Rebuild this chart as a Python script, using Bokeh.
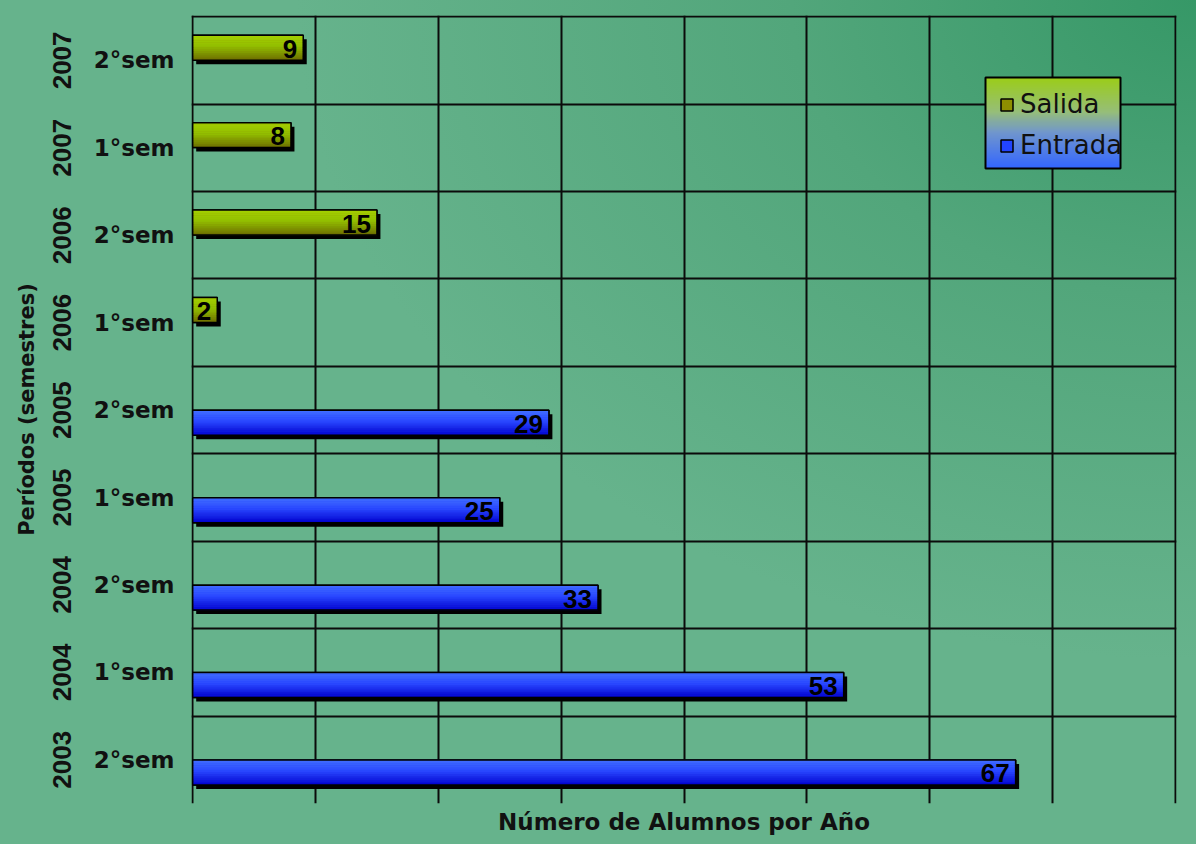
import numpy as np
from bokeh.plotting import figure
from bokeh.models import (FixedTicker, LinearAxis, Range1d, Legend, LegendItem,
                          ColumnDataSource)
from bokeh.core.properties import value
from bokeh.embed import file_html
from bokeh.resources import INLINE

# ---------------- data ----------------
years = ["2003", "2004", "2004", "2005", "2005", "2006", "2006", "2007", "2007"]
semesters = ["2°sem", "1°sem", "2°sem", "1°sem", "2°sem", "1°sem", "2°sem", "1°sem", "2°sem"]
entrada = [67, 53, 33, 25, 29, None, None, None, None]
salida = [None, None, None, None, None, 2, 15, 8, 9]
x_grid_ticks = [0, 10, 20, 30, 40, 50, 60, 70, 80]
series_names = ["Salida", "Entrada"]
x_title = "Número de Alumnos por Año"
y_title = "Períodos (semestres)"

# ---------------- geometry / style ----------------
W, H = 1196, 844
ML, MR, MT, MB = 191, 20, 15, 41
X_MAX = x_grid_ticks[-1]
n = len(years)
frame_w = W - ML - MR
frame_h = H - MT - MB
ppx = frame_w / X_MAX          # pixels per x unit
ppy = frame_h / n              # pixels per category band
EX, EY = 1.2 / ppx, 1.2 / ppy  # tiny range padding so edge grid lines are not clipped
centers = np.arange(n) + 0.5
BAR_H = 0.285
OFFS = {"Salida": 0.145, "Entrada": -0.145}
SH_DX, SH_DY = 3.5 / ppx, 4.0 / ppy

NUMF = "Liberation Sans"

p = figure(width=W, height=H, x_range=Range1d(-EX, X_MAX + EX),
           y_range=Range1d(0, n + EY),
           output_backend="svg", toolbar_location=None,
           min_border_left=ML, min_border_right=MR, min_border_top=MT,
           min_border_bottom=MB)
p.border_fill_alpha = 0
p.background_fill_alpha = 0
p.outline_line_color = None
p.styles = {"background": "radial-gradient(ellipse 900px 660px at 100% 0%, "
                          "#369867 0%, #52a67b 45%, #66b38c 100%)"}

# grids at band boundaries / every 10 units
p.xgrid.ticker = FixedTicker(ticks=x_grid_ticks)
p.ygrid.ticker = FixedTicker(ticks=list(range(1, n + 1)))
for g in (p.xgrid[0], p.ygrid[0]):
    g.grid_line_color = "#0b0b0b"
    g.grid_line_width = 2
    g.grid_line_alpha = 1

# x axis: title only
xa = p.xaxis[0]
xa.ticker = FixedTicker(ticks=[])
xa.axis_line_color = None
xa.major_tick_out = 0
xa.major_tick_in = 0
xa.minor_tick_out = 0
xa.major_label_standoff = 0
xa.axis_label = x_title
xa.axis_label_text_font = "DejaVu Sans"
xa.axis_label_text_font_style = "bold"
xa.axis_label_text_font_size = "23px"
xa.axis_label_text_color = "#111111"
xa.axis_label_standoff = 5

center_ticker = FixedTicker(ticks=[float(c) for c in centers])

# inner y axis: semesters
ya = p.yaxis[0]
ya.ticker = center_ticker
ya.major_label_overrides = {float(c): s for c, s in zip(centers, semesters)}
ya.axis_line_color = None
ya.major_tick_out = 0
ya.major_tick_in = 0
ya.minor_tick_out = 0
ya.minor_tick_in = 0
ya.major_label_standoff = 17
ya.major_label_text_font = "DejaVu Sans"
ya.major_label_text_font_style = "bold"
ya.major_label_text_font_size = "23px"
ya.major_label_text_color = "#111111"

# outer y axis: years (vertical) + title
yo = LinearAxis(ticker=center_ticker,
                major_label_overrides={float(c): y for c, y in zip(centers, years)})
yo.axis_line_color = None
yo.major_tick_out = 0
yo.major_tick_in = 0
yo.minor_tick_out = 0
yo.minor_tick_in = 0
yo.major_label_orientation = "vertical"
yo.major_label_standoff = 19
yo.major_label_text_font = NUMF
yo.major_label_text_font_style = "bold"
yo.major_label_text_font_size = "26px"
yo.major_label_text_color = "#111111"
yo.axis_label = y_title
yo.axis_label_text_font = "DejaVu Sans"
yo.axis_label_text_font_style = "bold"
yo.axis_label_text_font_size = "21px"
yo.axis_label_text_color = "#111111"
yo.axis_label_standoff = 12
p.add_layout(yo, "left")

# ---------------- bars ----------------
stops = {
    "Salida": [(0.0, (165, 208, 0)), (0.45, (146, 190, 0)), (1.0, (108, 108, 0))],
    "Entrada": [(0.0, (66, 112, 255)), (0.45, (42, 72, 255)), (1.0, (0, 0, 205))],
}
base_color = {"Salida": "#8f8f00", "Entrada": "#2244ff"}


def grad(stop_list, t):
    for (t0, c0), (t1, c1) in zip(stop_list[:-1], stop_list[1:]):
        if t0 <= t <= t1:
            f = (t - t0) / (t1 - t0)
            c = [int(round(a + (b - a) * f)) for a, b in zip(c0, c1)]
            return "#%02x%02x%02x" % tuple(c)
    return "#%02x%02x%02x" % stop_list[-1][1]


legend_items = []
NSTRIP = 14
for name, vals in (("Entrada", entrada), ("Salida", salida)):
    idx = [i for i, v in enumerate(vals) if v is not None]
    v = [vals[i] for i in idx]
    yc = [centers[i] + OFFS[name] for i in idx]
    src = ColumnDataSource(dict(y=yc, right=v, lab=[str(x) for x in v],
                                ys=[y - SH_DY for y in yc],
                                rs=[x + SH_DX for x in v],
                                ls=[SH_DX] * len(v)))
    # shadow
    p.hbar(y="ys", left="ls", right="rs", height=BAR_H, source=src,
           fill_color="#000000", line_color=None)
    # base (legend glyph)
    base = p.hbar(y="y", left=0, right="right", height=BAR_H, source=src,
                  fill_color=base_color[name], line_color="#000000", line_width=1.5)
    # gradient strips
    sy, sr, sc = [], [], []
    for yy, vv in zip(yc, v):
        top = yy + BAR_H / 2
        for k in range(NSTRIP):
            t = (k + 0.5) / NSTRIP
            sy.append(top - (k + 0.5) * BAR_H / NSTRIP)
            sr.append(vv)
            sc.append(grad(stops[name], t))
    p.hbar(y=sy, left=0, right=sr, height=BAR_H / NSTRIP * 1.15, fill_color=sc,
           line_color=None)
    # outline
    p.hbar(y="y", left=0, right="right", height=BAR_H, source=src,
           fill_alpha=0, line_color="#000000", line_width=1.5)
    # value labels
    p.text(x="right", y="y", text="lab", source=src, text_align="right",
           text_baseline="middle", x_offset=-6, y_offset=1,
           text_font=value(NUMF), text_font_style="bold",
           text_font_size="26px", text_color="#000000")
    legend_items.append(LegendItem(label=name, renderers=[base]))

legend_items = sorted(legend_items, key=lambda it: series_names.index(it.label.value))

# ---------------- legend (gradient box drawn behind) ----------------
def px2x(px):
    return -EX + (px - ML) * (X_MAX + 2 * EX) / frame_w


def px2y(py):
    return (n + EY) - (py - MT) * (n + EY) / frame_h


lx0, lx1, ly0, ly1 = px2x(985), px2x(1120), px2y(168), px2y(77)
leg_stops = [(0.0, (51, 102, 255)), (0.4, (112, 150, 205)),
             (0.62, (150, 190, 120)), (1.0, (155, 205, 25))]
NY = 90
img = np.zeros((NY, 1), dtype=np.uint32)
view = img.view(dtype=np.uint8).reshape((NY, 1, 4))
for r in range(NY):
    c = grad(leg_stops, r / (NY - 1))
    view[r, 0, 0] = int(c[1:3], 16)
    view[r, 0, 1] = int(c[3:5], 16)
    view[r, 0, 2] = int(c[5:7], 16)
    view[r, 0, 3] = 255
p.image_rgba(image=[img], x=lx0, y=ly0, dw=lx1 - lx0, dh=ly1 - ly0)
p.quad(left=[lx0], right=[lx1], bottom=[ly0], top=[ly1], fill_alpha=0,
       line_color="#000000", line_width=2)

legend = Legend(items=legend_items, location=(808, 643))
legend.glyph_width = 15
legend.glyph_height = 15
legend.label_text_font = "DejaVu Sans"
legend.label_text_font_size = "26px"
legend.label_text_color = "#111111"
legend.label_standoff = 6
legend.spacing = 11
legend.padding = 0
legend.margin = 0
legend.background_fill_alpha = 0
legend.border_line_alpha = 0
p.add_layout(legend)

open("out.html", "w").write(file_html(p, INLINE))
